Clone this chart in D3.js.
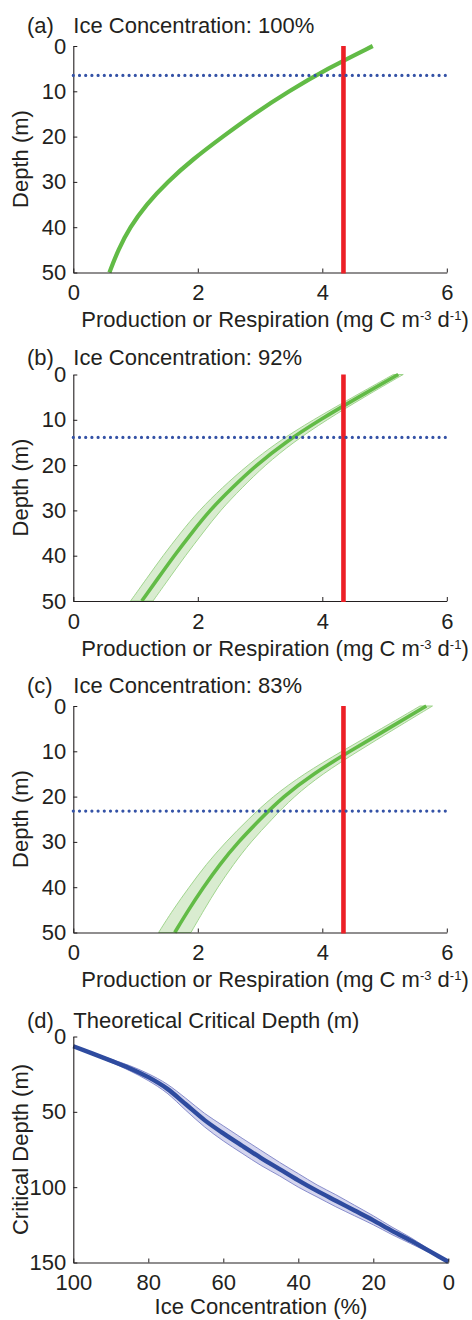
<!DOCTYPE html>
<html>
<head>
<meta charset="utf-8">
<script src="https://cdn.jsdelivr.net/npm/d3@7"></script>
<style>
body { margin: 0; background: #fff; }
svg text { font-family: "Liberation Sans", Arial, Helvetica, sans-serif; fill: #231f20; }
</style>
</head>
<body>
<div id="chart"></div>
<script>
// depth levels (m) of the production profiles
var depths = [0, 5, 10, 15, 20, 25, 30, 35, 40, 45, 50];

// (a) 100% ice concentration
var prodA = [4.81, 4.08, 3.46, 2.90, 2.40, 1.92, 1.51, 1.17, 0.91, 0.72, 0.58];

// (b) 92% ice concentration, with its uncertainty band
var prodB   = [5.22, 4.58, 3.96, 3.40, 2.94, 2.55, 2.19, 1.90, 1.62, 1.36, 1.10];
var prodBLo = [5.14, 4.49, 3.85, 3.27, 2.80, 2.39, 2.02, 1.72, 1.44, 1.18, 0.92];
var prodBHi = [5.30, 4.67, 4.07, 3.53, 3.08, 2.71, 2.36, 2.08, 1.80, 1.54, 1.28];

// (c) 83% ice concentration, with its uncertainty band
var prodC   = [5.67, 5.06, 4.44, 3.85, 3.37, 3.00, 2.65, 2.35, 2.09, 1.85, 1.63];
var prodCLo = [5.57, 4.95, 4.31, 3.70, 3.20, 2.81, 2.45, 2.13, 1.86, 1.60, 1.37];
var prodCHi = [5.77, 5.17, 4.57, 4.00, 3.54, 3.19, 2.85, 2.57, 2.32, 2.10, 1.89];

// community respiration and critical depth (dotted) for a, b, c
var respiration = 4.34;
var criticalDepths = [6.5, 13.9, 23.2];

// (d) theoretical critical depth vs ice concentration
var iceConc   = [100, 95, 90, 85, 80, 75, 70, 65, 60, 55, 50, 45, 40, 35, 30, 25, 20, 15, 10, 5, 0];
var critDepth = [6.5, 11.2, 16, 21, 27, 34.6, 45, 55.5, 64.3, 72.5, 80.5, 88, 95.5, 102.5, 109, 115.5, 122, 129, 135.5, 142.5, 149.5];
var critLo    = [6.5, 10.6, 15, 19.3, 24.7, 31.6, 41, 51, 59.3, 67.5, 75.5, 83.5, 91, 98.5, 105, 112, 119, 126.5, 133.5, 141.5, 149.5];
var critHi    = [6.5, 11.8, 17, 22.7, 29.3, 37.6, 49, 60, 69.3, 77.5, 85.5, 92.5, 100, 106.5, 113, 119, 125, 131.5, 137.5, 143.5, 149.5];

// tick labels
var prodTicks = [0, 2, 4, 6];
var depthTicks = [0, 10, 20, 30, 40, 50];
var concTicks = [100, 80, 60, 40, 20, 0];
var critTicks = [0, 50, 100, 150];

var svg = d3.select("#chart").append("svg")
    .attr("width", 472)
    .attr("height", 1320);

var left = 73.3;
var fontSize = 22;
var fmt = d3.format("d");

// draw left and bottom axes with inward ticks
function drawAxes(x, y, xTicks, yTicks) {
    var xa = svg.append("g")
        .attr("transform", "translate(0," + y.range()[1] + ")")
        .call(d3.axisBottom(x).tickValues(xTicks).tickFormat(fmt)
            .tickSizeInner(-4).tickSizeOuter(0).tickPadding(12));
    var ya = svg.append("g")
        .attr("transform", "translate(" + left + ",0)")
        .call(d3.axisLeft(y).tickValues(yTicks).tickFormat(fmt)
            .tickSizeInner(-4).tickSizeOuter(0).tickPadding(7));
    [xa, ya].forEach(function(a) {
        a.attr("font-size", null).attr("font-family", null).style("color", "#231f20");
        a.selectAll("text").style("font-size", fontSize + "px");
        a.select(".domain").attr("stroke-width", 1.1);
    });
}

function panelTitle(label, title, baseline) {
    svg.append("text").attr("x", 27).attr("y", baseline)
        .style("font-size", fontSize + "px").text(label);
    svg.append("text").attr("x", left).attr("y", baseline)
        .style("font-size", fontSize + "px").text(title);
}

function yLabel(text, cy) {
    svg.append("text")
        .attr("transform", "translate(28," + cy + ") rotate(-90)")
        .attr("text-anchor", "middle")
        .style("font-size", fontSize + "px")
        .text(text);
}

// production profile panels
var panels = [
    {label: "(a)", title: "Ice Concentration: 100%", top: 46, titleY: 33, prod: prodA, lo: null, hi: null, crit: criticalDepths[0]},
    {label: "(b)", title: "Ice Concentration: 92%", top: 374.5, titleY: 365, prod: prodB, lo: prodBLo, hi: prodBHi, crit: criticalDepths[1]},
    {label: "(c)", title: "Ice Concentration: 83%", top: 706, titleY: 693, prod: prodC, lo: prodCLo, hi: prodCHi, crit: criticalDepths[2]}
];

panels.forEach(function(p) {
    var x = d3.scaleLinear().domain([0, 6]).range([left, 446.8]);
    var y = d3.scaleLinear().domain([0, 50]).range([p.top, p.top + 226.5]);

    // uncertainty band
    if (p.lo) {
        var area = d3.area()
            .y(function(d, i) { return y(depths[i]); })
            .x0(function(d, i) { return x(p.lo[i]); })
            .x1(function(d, i) { return x(p.hi[i]); })
            .curve(d3.curveBasis);
        svg.append("path")
            .datum(depths)
            .attr("d", area)
            .attr("fill", "#d9ecd0")
            .attr("stroke", "#98d184")
            .attr("stroke-width", 0.9);
    }

    // production line
    var line = d3.line()
        .y(function(d, i) { return y(depths[i]); })
        .x(function(d) { return x(d); })
        .curve(d3.curveBasis);
    svg.append("path")
        .datum(p.prod)
        .attr("d", line)
        .attr("fill", "none")
        .attr("stroke", "#62bb46")
        .attr("stroke-width", p.lo ? 3.6 : 4.2);

    drawAxes(x, y, prodTicks, depthTicks);

    // respiration
    svg.append("line")
        .attr("x1", x(respiration)).attr("x2", x(respiration))
        .attr("y1", y(0)).attr("y2", y(50) + 1)
        .attr("stroke", "#ec1f26")
        .attr("stroke-width", 4.6);

    // critical depth
    svg.append("line")
        .attr("x1", x(0)).attr("x2", x(6))
        .attr("y1", y(p.crit)).attr("y2", y(p.crit))
        .attr("stroke", "#3452a6")
        .attr("stroke-width", 3.2)
        .attr("stroke-linecap", "round")
        .attr("stroke-dasharray", "0,6.2");

    panelTitle(p.label, p.title, p.titleY);
    yLabel("Depth (m)", p.top + 113);

    var xl = svg.append("text")
        .attr("x", 275)
        .attr("y", p.top + 226.5 + 54.5)
        .attr("text-anchor", "middle")
        .style("font-size", fontSize + "px");
    xl.append("tspan").text("Production or Respiration (mg C m");
    xl.append("tspan").attr("baseline-shift", "super").style("font-size", "13px").text("-3");
    xl.append("tspan").text(" d");
    xl.append("tspan").attr("baseline-shift", "super").style("font-size", "13px").text("-1");
    xl.append("tspan").text(")");
});

// panel d: critical depth vs ice concentration
var xd = d3.scaleLinear().domain([100, 0]).range([left, 448.3]);
var yd = d3.scaleLinear().domain([0, 150]).range([1036.5, 1262.5]);

var areaD = d3.area()
    .x(function(d, i) { return xd(iceConc[i]); })
    .y0(function(d, i) { return yd(critLo[i]); })
    .y1(function(d, i) { return yd(critHi[i]); })
    .curve(d3.curveMonotoneX);
svg.append("path")
    .datum(iceConc)
    .attr("d", areaD)
    .attr("fill", "#d4d5ee")
    .attr("stroke", "#7d82c6")
    .attr("stroke-width", 0.9);

var lineD = d3.line()
    .x(function(d, i) { return xd(iceConc[i]); })
    .y(function(d) { return yd(d); })
    .curve(d3.curveMonotoneX);
svg.append("path")
    .datum(critDepth)
    .attr("d", lineD)
    .attr("fill", "none")
    .attr("stroke", "#2e4b9f")
    .attr("stroke-width", 4.4);

drawAxes(xd, yd, concTicks, critTicks);
panelTitle("(d)", "Theoretical Critical Depth (m)", 1028);
yLabel("Critical Depth (m)", 1149.5);

svg.append("text")
    .attr("x", 261)
    .attr("y", 1314)
    .attr("text-anchor", "middle")
    .style("font-size", fontSize + "px")
    .text("Ice Concentration (%)");
</script>
</body>
</html>
